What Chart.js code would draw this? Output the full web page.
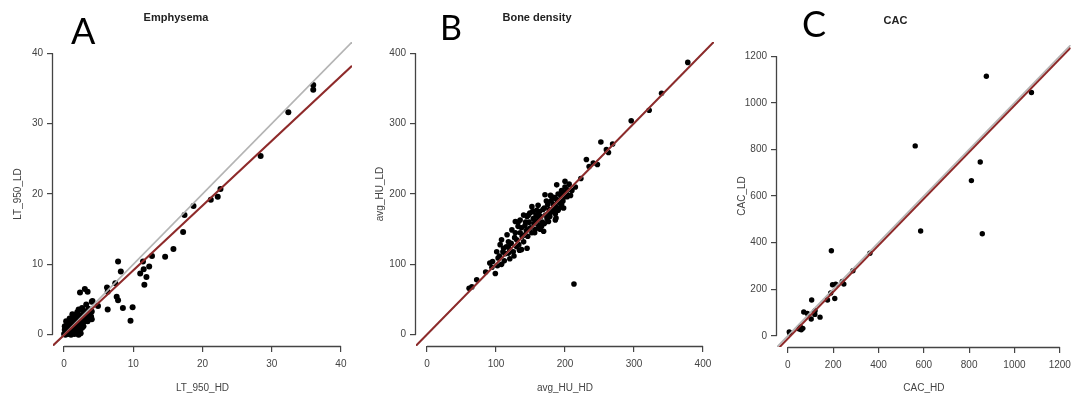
<!DOCTYPE html>
<html><head><meta charset="utf-8">
<script src="https://cdn.jsdelivr.net/npm/chart.js@4.4.1/dist/chart.umd.min.js"></script>
<style>
html,body{margin:0;padding:0;background:#fff;overflow:hidden;width:1075px;height:396px;position:relative;}
canvas{position:absolute;top:0;}
.lbl{position:absolute;font-family:Lato,'Open Sans',sans-serif;line-height:1;color:#000;white-space:nowrap;}
</style></head><body>
<canvas id="cA" width="360" height="396" style="left:0px"></canvas>
<canvas id="cB" width="360" height="396" style="left:360px"></canvas>
<canvas id="cC" width="362" height="396" style="left:715px"></canvas>
<div class="lbl" style="left:71px;top:12px;font-size:36px">A</div>
<div class="lbl" style="left:440px;top:10px;font-size:34px">B</div>
<div class="lbl" style="left:802px;top:5px;font-size:36px">C</div>
<script>
// ---------- DATA ----------
const panelTitles = ['Emphysema', 'Bone density', 'CAC'];
const xTitles = ['LT_950_HD', 'avg_HU_HD', 'CAC_HD'];
const yTitles = ['LT_950_LD', 'avg_HU_LD', 'CAC_LD'];

const emphTicks = [0, 10, 20, 30, 40];
const boneTicks = [0, 100, 200, 300, 400];
const cacTicks = [0, 200, 400, 600, 800, 1000, 1200];

const emphHD = [36.0,36.0,32.4,28.4,22.6,22.2,21.2,18.7,17.4,17.2,15.8,14.6,12.7,11.4,11.5,12.3,11.0,11.9,11.6,7.8,8.2,7.4,7.6,7.8,8.5,9.9,9.6,6.2,6.3,6.3,4.9,4.1,2.3,3.0,3.4,3.2,3.5,3.9,4.0,3.4,2.6,2.1,1.7,1.9,1.4,1.0,0.6,0.1,0.4,0.9,1.6,2.2,2.1,1.1,0.1,0.0,1.8,4.0,3.5,4.0,2.6,
  0.2,0.3,0.5,0.6,0.7,0.8,0.9,1.0,1.1,1.2,1.3,1.4,1.5,1.6,1.7,1.8,1.9,2.0,2.1,2.2,2.3,2.4,2.5,2.7,2.8,2.9,3.0,3.2,3.6,3.8,0.2,0.5,1.0,1.5,2.0,0.3,0.8,1.2,1.9,2.2,1.1,0.4,2.4,2.6,3.1,2.8];
const emphLD = [35.5,34.8,31.6,25.4,20.7,19.6,19.2,18.3,17.0,14.6,12.2,11.1,11.2,10.4,9.3,9.7,8.7,8.2,7.1,10.4,9.0,7.3,5.4,4.9,3.8,3.9,2.0,6.7,6.1,3.6,4.1,4.8,6.0,6.5,6.1,4.3,3.1,2.6,2.2,1.9,3.6,3.6,2.8,1.9,2.4,2.1,1.7,1.2,0.5,0.2,0.5,0.7,0.0,1.0,0.7,0.1,1.4,4.7,3.7,3.3,3.8,
  0.8,1.2,1.5,0.1,0.9,0.3,1.8,0.6,1.3,0.2,2.2,0.9,1.6,0.4,2.6,1.1,0.7,1.9,0.3,1.4,2.3,0.9,1.7,2.0,1.2,2.6,1.9,2.4,2.7,3.4,0.0,0.3,0.0,0.1,0.5,1.9,2.3,2.9,3.2,2.8,1.6,0.9,0.2,1.0,3.3,2.9];

const boneHD = [61,65,72,85,99,94,95,91,103,106,111,118,128,135,123,145,137,145,159,169,176,188,200,198,203,215,186,188,181,171,161,149,152,132,116,108,101,118,130,142,166,178,190,
  378,340,322,296,269,263,260,252,247,241,235,231,223,199,213,
  105,110,112,115,120,122,125,127,130,133,135,138,140,142,144,146,148,150,152,154,155,157,158,160,162,163,165,167,170,172,174,175,177,180,182,183,185,187,190,192,194,195,197,200,202,204,206,208,210,
  120,126,134,140,148,156,164,170,178,186,192,118,108,113,102,128,132,137,143,147,153,161,168,173,179,184,195,198,187];
const boneLD = [66,68,78,89,87,96,104,102,109,128,123,132,161,163,149,168,121,123,177,147,161,213,218,203,196,210,163,192,196,199,184,173,182,154,142,135,118,116,125,142,154,173,177,
  387,343,319,304,271,259,263,274,242,244,239,249,222,196,72,
  112,118,105,125,120,130,118,138,135,128,145,140,132,155,148,140,160,152,145,165,158,150,170,162,155,175,168,160,180,170,165,185,178,190,175,185,195,182,200,188,198,205,190,210,200,206,214,198,205,
  108,112,120,170,150,145,150,158,168,172,180,125,100,115,98,145,160,152,160,170,175,168,178,190,198,178,185,180,166];

const cacHD = [876,1075,562,849,810,586,858,192,362,287,240,247,197,211,189,175,207,105,70,86,117,119,103,142,55,66,59,50,6,8,120];
const cacLD = [1114,1044,815,746,666,450,438,365,354,279,233,222,219,221,184,154,160,154,102,96,100,92,72,80,38,32,26,29,17,12,108];

// abline coefficients [intercept, slope]
const identityLine = [0, 1];
const emphFit = [-0.05, 0.92];
const boneFit = [0.5, 1.0];
const cacFit = [-12, 1.0];

// ---------- LAYOUT (pixels inside each canvas) ----------
const layouts = [
  {id:'cA', yW:53, xH:50, padR:8, tTop:11, tBot:17.8, yTPad:12, r:3.0},
  {id:'cB', yW:56, xH:50, padR:6, tTop:11, tBot:17.8, yTPad:14, r:2.8},
  {id:'cC', yW:62, xH:49, padR:1, tTop:14.8, tBot:17, yTPad:21, r:2.7}
];

const tickFont = {family:"'Liberation Sans', Arial, sans-serif", size:10};
const tickColor = '#444';

const spines = {
  id:'spines',
  beforeDatasetsDraw(chart){
    const {ctx, chartArea:a, scales:{x, y}} = chart;
    const xt = x.ticks, yt = y.ticks;
    ctx.save();
    ctx.strokeStyle = '#444';
    ctx.lineWidth = 1.3;
    ctx.beginPath();
    const by = Math.round(a.bottom) + 0.5;
    ctx.moveTo(x.getPixelForValue(xt[0].value), by);
    ctx.lineTo(x.getPixelForValue(xt[xt.length-1].value), by);
    const lx = Math.round(a.left) - 0.5;
    ctx.moveTo(lx, y.getPixelForValue(yt[0].value));
    ctx.lineTo(lx, y.getPixelForValue(yt[yt.length-1].value));
    ctx.stroke();
    ctx.restore();
  }
};

function makePanel(i, hd, ld, ticks, fit){
  const L = layouts[i];
  const t0 = ticks[0], tN = ticks[ticks.length-1];
  const ext = 0.04 * (tN - t0);
  const lo = t0 - ext, hi = tN + ext;
  const pts = hd.map((v, k) => ({x:v, y:ld[k]}));
  const lineData = c => [{x:lo, y:c[0] + c[1]*lo}, {x:hi, y:c[0] + c[1]*hi}];
  const scaleBase = (fitFn) => ({
    type:'linear', min:lo, max:hi,
    afterBuildTicks: s => { s.ticks = ticks.map(v => ({value:v})); },
    afterFit: fitFn,
    border:{display:false},
    grid:{display:true, drawOnChartArea:false, drawTicks:true, tickLength:6, color:'#444', lineWidth:1.2},
  });
  const xs = scaleBase(s => { s.height = L.xH; });
  xs.position = 'bottom';
  xs.ticks = {font:tickFont, color:tickColor, padding:6, maxRotation:0, autoSkip:false, callback:v => String(v)};
  xs.title = {display:true, text:xTitles[i], font:tickFont, color:tickColor, padding:{top:0, bottom:2}};
  const ys = scaleBase(s => { s.width = L.yW; });
  ys.position = 'left';
  ys.ticks = {font:tickFont, color:tickColor, padding:4, autoSkip:false, callback:v => String(v)};
  ys.title = {display:true, text:yTitles[i], font:tickFont, color:tickColor, padding:{top:L.yTPad, bottom:0}};

  new Chart(document.getElementById(L.id), {
    type:'scatter',
    data:{datasets:[
      {type:'line', data:lineData(fit), borderColor:'#8e2a2a', borderWidth:2, pointRadius:0, fill:false},
      {type:'line', data:lineData(identityLine), borderColor:'#b4b4b4', borderWidth:1.6, pointRadius:0, fill:false},
      {data:pts, backgroundColor:'#000', borderWidth:0, pointRadius:L.r, pointHoverRadius:L.r}
    ]},
    options:{
      responsive:false, animation:false, events:[],
      layout:{padding:{left:0, right:L.padR, top:0, bottom:0}},
      plugins:{
        legend:{display:false}, tooltip:{enabled:false},
        title:{display:true, text:panelTitles[i], color:'#222',
          font:{family:"'Liberation Sans', Arial, sans-serif", size:11, weight:'bold'},
          padding:{top:L.tTop, bottom:L.tBot}}
      },
      scales:{x:xs, y:ys}
    },
    plugins:[spines]
  });
}

makePanel(0, emphHD, emphLD, emphTicks, emphFit);
makePanel(1, boneHD, boneLD, boneTicks, boneFit);
makePanel(2, cacHD, cacLD, cacTicks, cacFit);
</script>
</body></html>
